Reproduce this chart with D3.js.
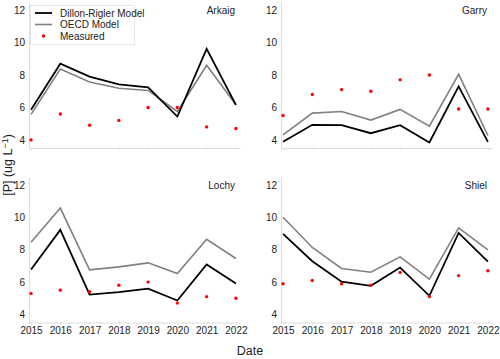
<!DOCTYPE html>
<html>
<head>
<meta charset="utf-8">
<script src="https://cdn.jsdelivr.net/npm/d3@7"></script>
<style>
  html, body { margin: 0; padding: 0; background: #fff; }
  svg { display: block; font-family: "Liberation Sans", Arial, sans-serif; }
</style>
</head>
<body>
<svg id="chart" width="500" height="359"></svg>
<script>
const years = [2015, 2016, 2017, 2018, 2019, 2020, 2021, 2022];
const yTicks = [4, 6, 8, 10, 12];
const lakes = ["Arkaig", "Garry", "Lochy", "Shiel"];

const arkaigDillon = [5.86, 8.70, 7.90, 7.42, 7.24, 5.44, 9.61, 6.16];
const arkaigOECD   = [5.57, 8.37, 7.57, 7.18, 7.05, 5.75, 8.60, 6.16];
const arkaigMeas   = [4.0, 5.6, 4.9, 5.2, 6.0, 6.0, 4.8, 4.7];

const garryDillon  = [3.88, 4.93, 4.91, 4.41, 4.91, 3.84, 7.30, 3.88];
const garryOECD    = [4.31, 5.65, 5.75, 5.22, 5.88, 4.85, 8.04, 4.27];
const garryMeas    = [5.5, 6.8, 7.1, 7.0, 7.7, 8.0, 5.9, 5.9];

const lochyDillon  = [6.78, 9.23, 5.23, 5.38, 5.60, 4.86, 7.09, 5.91];
const lochyOECD    = [8.47, 10.58, 6.76, 6.94, 7.19, 6.53, 8.65, 7.46];
const lochyMeas    = [5.3, 5.5, 5.4, 5.8, 6.0, 4.7, 5.1, 5.0];

const shielDillon  = [8.98, 7.29, 6.02, 5.77, 6.90, 5.15, 9.04, 7.27];
const shielOECD    = [10.01, 8.14, 6.84, 6.61, 7.56, 6.18, 9.35, 7.99];
const shielMeas    = [5.9, 6.1, 5.9, 5.8, 6.6, 5.1, 6.4, 6.7];

const seriesNames = ["Dillon-Rigler Model", "OECD Model", "Measured"];

const panelData = [
  { name: lakes[0], dillon: arkaigDillon, oecd: arkaigOECD, meas: arkaigMeas },
  { name: lakes[1], dillon: garryDillon,  oecd: garryOECD,  meas: garryMeas },
  { name: lakes[2], dillon: lochyDillon,  oecd: lochyOECD,  meas: lochyMeas },
  { name: lakes[3], dillon: shielDillon,  oecd: shielOECD,  meas: shielMeas }
];

const panels = [
  { x0: 29,  x1: 240, y0: 2,   y1: 148, labels: false },
  { x0: 281, x1: 492, y0: 2,   y1: 148, labels: false },
  { x0: 29,  x1: 240, y0: 177, y1: 322.5, labels: true },
  { x0: 281, x1: 492, y0: 177, y1: 322.5, labels: true }
];

const svg = d3.select("#chart");
const spine = "#dcdcdc";

panelData.forEach((d, i) => {
  const p = panels[i];
  const x = d3.scaleLinear().domain([2014.93, 2022.14]).range([p.x0, p.x1]);
  const y = d3.scaleLinear().domain([3.5, 12.5]).range([p.y1, p.y0]);
  const g = svg.append("g");

  // x axis
  const xa = g.append("g").attr("transform", `translate(0,${p.y1})`)
    .call(d3.axisBottom(x).tickValues(years).tickFormat(p.labels ? d3.format("d") : () => "")
      .tickSize(2).tickSizeOuter(0).tickPadding(2));
  xa.select(".domain").attr("stroke", spine).attr("stroke-width", 1);
  xa.selectAll(".tick line").attr("stroke", spine);
  xa.selectAll(".tick text").attr("fill", "#222").style("font-size", "10px")
    .style("font-family", "'Liberation Sans', Arial, sans-serif");

  // y axis
  const ya = g.append("g").attr("transform", `translate(${p.x0},0)`)
    .call(d3.axisLeft(y).tickValues(yTicks).tickSize(0).tickSizeOuter(0).tickPadding(4));
  ya.select(".domain").attr("stroke", spine).attr("stroke-width", 1);
  ya.selectAll(".tick text").attr("fill", "#222").style("font-size", "10px")
    .style("font-family", "'Liberation Sans', Arial, sans-serif");

  const line = d3.line().x((v, j) => x(years[j])).y(v => y(v));
  g.append("path").datum(d.oecd).attr("d", line)
    .attr("fill", "none").attr("stroke", "#808080").attr("stroke-width", 1.6);
  g.append("path").datum(d.dillon).attr("d", line)
    .attr("fill", "none").attr("stroke", "#000").attr("stroke-width", 1.8);
  g.selectAll("circle.m").data(d.meas).enter().append("circle")
    .attr("cx", (v, j) => x(years[j])).attr("cy", v => y(v)).attr("r", 1.7)
    .attr("fill", "#ff0000");

  g.append("text").attr("x", p.x1 - 5).attr("y", p.y0 + 12)
    .attr("text-anchor", "end").style("font-size", "10px").attr("fill", "#222")
    .text(d.name);
});

// legend
const lg = svg.append("g");
lg.append("rect").attr("x", 30.5).attr("y", 5.5).attr("width", 104).attr("height", 39)
  .attr("fill", "#fff").attr("stroke", "#e6e6e6").attr("stroke-width", 1);
const legendStyles = [
  { type: "line", color: "#000", w: 1.8 },
  { type: "line", color: "#808080", w: 1.6 },
  { type: "dot", color: "#ff0000" }
];
seriesNames.forEach((n, i) => {
  const yy = 13 + i * 11.5;
  const s = legendStyles[i];
  if (s.type === "line") {
    lg.append("line").attr("x1", 35).attr("x2", 52).attr("y1", yy).attr("y2", yy)
      .attr("stroke", s.color).attr("stroke-width", s.w);
  } else {
    lg.append("circle").attr("cx", 43.5).attr("cy", yy).attr("r", 1.7).attr("fill", s.color);
  }
  lg.append("text").attr("x", 60).attr("y", yy + 3.5).style("font-size", "10px")
    .attr("fill", "#222").text(n);
});

// axis titles
svg.append("text").attr("x", 250).attr("y", 355).attr("text-anchor", "middle")
  .style("font-size", "12.5px").attr("fill", "#222").text("Date");
const yl = svg.append("text").attr("transform", "translate(12,165) rotate(-90)")
  .attr("text-anchor", "middle").style("font-size", "12.5px").attr("fill", "#222");
yl.append("tspan").text("[P] (ug L");
yl.append("tspan").attr("dy", -4).style("font-size", "9px").text("−1");
yl.append("tspan").attr("dy", 4).text(")");
</script>
</body>
</html>
